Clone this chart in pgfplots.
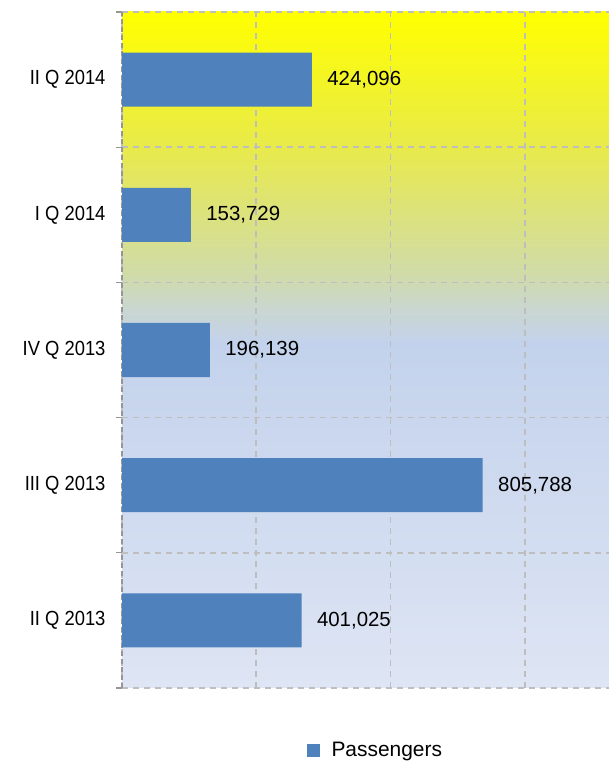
\documentclass[border=0pt]{standalone}
\usepackage{pgfplots}
\pgfplotsset{compat=1.18}
\usepackage{fontspec}
\setmainfont{Liberation Sans}
\newfontfamily\tickfont[FakeStretch=0.9]{Liberation Sans}
\definecolor{barblue}{RGB}{79,129,189}
\definecolor{gridgray}{RGB}{190,190,190}
\definecolor{axisgray}{RGB}{150,150,150}
\pgfdeclareverticalshading{plotbg}{100bp}{
 rgb(0bp)=(0.871,0.898,0.957);
 rgb(25bp)=(0.871,0.898,0.957);
 rgb(50.5bp)=(0.765,0.824,0.925);
 rgb(53bp)=(0.790,0.840,0.820);
 rgb(55.5bp)=(0.816,0.859,0.667);
 rgb(65bp)=(0.910,0.918,0.294);
 rgb(75bp)=(1,1,0);
 rgb(100bp)=(1,1,0)}
\begin{document}
\begin{tikzpicture}[font=\fontsize{20}{24}\selectfont]
\useasboundingbox (0,0) rectangle (609bp,761bp);
\begin{axis}[
  at={(122bp,73bp)}, anchor=south west,
  scale only axis, width=487bp, height=676bp,
  xbar, bar width=0.4,
  xmin=0, xmax=1088000,
  ymin=-0.5, ymax=4.5,
  scaled x ticks=false,
  axis background/.style={shade, shading=plotbg},
  axis x line*=bottom, axis y line*=left,
  x axis line style={draw=none},
  y axis line style={draw=axisgray, line width=1.3bp, dash pattern=on 5bp off 3bp},
  xtick={0,300000,600000,900000}, xticklabels={},
  ytick={0,1,2,3,4},
  yticklabels={II Q 2013, III Q 2013, IV Q 2013, I Q 2014, II Q 2014},
  minor ytick={-0.5,0.5,1.5,2.5,3.5,4.5},
  major tick length=0pt, minor tick length=6bp,
  tick align=outside,
  minor tick style={draw=axisgray, line width=1.3bp},
  xmajorgrids, yminorgrids,
  grid style={draw=gridgray, line width=1.6bp, dash pattern=on 6bp off 5bp},
  yticklabel style={font=\tickfont\fontsize{20.5}{24}\selectfont, xshift=-13bp},
  /pgf/number format/assume math mode=true,
  nodes near coords={\pgfmathprintnumber[fixed, 1000 sep={,}]{\pgfplotspointmeta}},
  point meta=x,
  every node near coord/.append style={font=\fontsize{20.5}{25}\selectfont, black, anchor=west, xshift=12bp},
  legend style={at={(0.52,-0.092)}, anchor=center, draw=none, fill=none,
    font=\fontsize{21}{25}\selectfont},
  legend image code/.code={\fill[barblue] (0bp,-6.5bp) rectangle (13bp,6.5bp); \path (23bp,0bp);},
  clip=false,
]
\addplot[fill=barblue, draw=none] coordinates {(401025,0) (805788,1) (196139,2) (153729,3) (424096,4)};
\addlegendentry{Passengers}
\end{axis}
\end{tikzpicture}
\end{document}
